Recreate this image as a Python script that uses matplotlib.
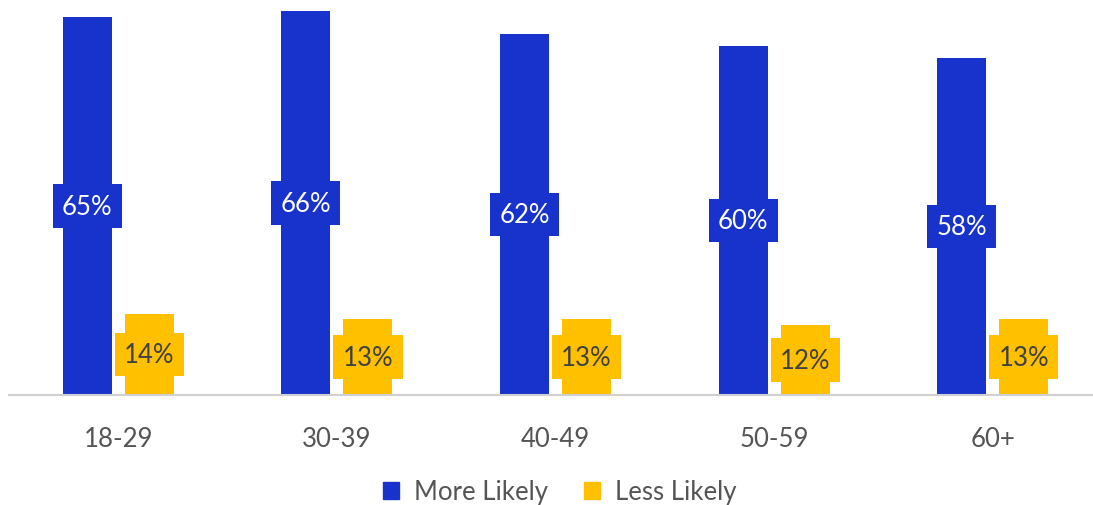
import matplotlib.pyplot as plt
from matplotlib.patches import Patch
import numpy as np

plt.rcParams['font.family'] = ['Lato', 'DejaVu Sans']

categories = ['18-29', '30-39', '40-49', '50-59', '60+']
more_likely = [65, 66, 62, 60, 58]
less_likely = [14, 13, 13, 12, 13]
series_names = ['More Likely', 'Less Likely']

blue = '#1733CC'
yellow = '#FFC000'
fs = 18.5

fig = plt.figure(figsize=(10.93, 5.06), dpi=100)
ax = fig.add_axes([9 / 1093, 110 / 506, 1093 / 1093, 396 / 506])

x = np.arange(len(categories))
w = 0.224
off = 0.142
b1 = ax.bar(x - off, more_likely, width=w, color=blue)
b2 = ax.bar(x + off, less_likely, width=w, color=yellow)

for rect, v in zip(b1, more_likely):
    ax.text(rect.get_x() + rect.get_width() / 2, v / 2, f'{v}%',
            ha='center', va='center', color='white', fontsize=fs,
            bbox=dict(boxstyle='square,pad=0.36', fc=blue, ec='none'))
for rect, v in zip(b2, less_likely):
    ax.text(rect.get_x() + rect.get_width() / 2, v / 2, f'{v}%',
            ha='center', va='center', color='#404040', fontsize=fs,
            bbox=dict(boxstyle='square,pad=0.36', fc=yellow, ec='none'))

ax.set_xlim(-0.5, len(categories) - 0.5)
ax.set_ylim(0, 68.1)
ax.set_xticks(x)
ax.set_xticklabels(categories, fontsize=fs, color='#555555')
ax.tick_params(axis='x', length=0, pad=22)
ax.set_yticks([])
for s in ['top', 'right', 'left']:
    ax.spines[s].set_visible(False)
ax.spines['bottom'].set_color('#d0d0d0')
ax.spines['bottom'].set_linewidth(1.5)

handles = [Patch(color=blue), Patch(color=yellow)]
fig.legend(handles, series_names, loc='center', bbox_to_anchor=(560 / 1093, 1 - 493 / 506),
           ncol=2, frameon=False, fontsize=fs, labelcolor='#555555',
           handlelength=0.6, handleheight=0.6, handletextpad=0.6, columnspacing=1.4)

fig.savefig('out.png', dpi=100)
